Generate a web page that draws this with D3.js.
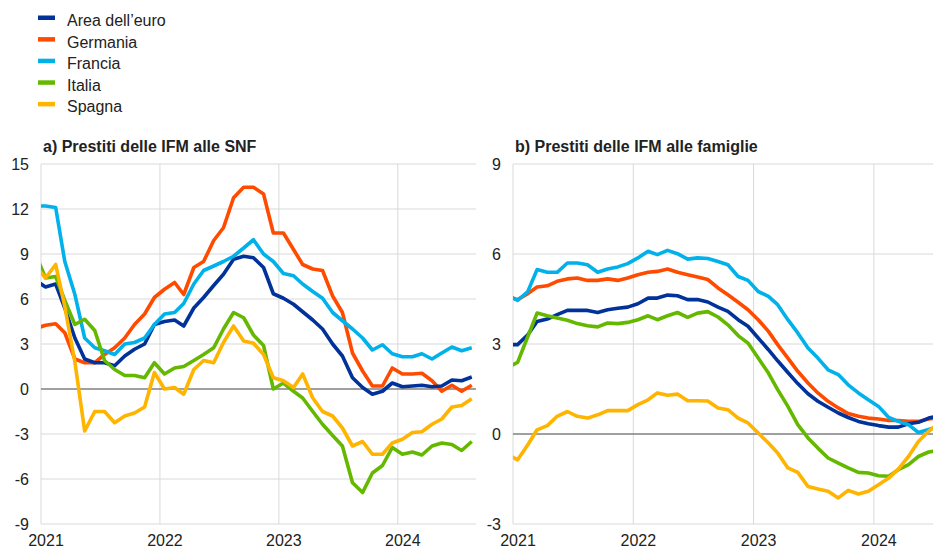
<!DOCTYPE html>
<html>
<head>
<meta charset="utf-8">
<script src="https://cdn.jsdelivr.net/npm/d3@7"></script>
<style>
    body { margin: 0; background: #fff; }
    svg { font-family: "Liberation Sans", Arial, sans-serif; }
    .grid line { stroke: #d9d9d9; stroke-width: 1; }
    .zero { stroke: #808080; stroke-width: 1.3; }
    .series { fill: none; stroke-width: 3.6; stroke-linejoin: round; }
</style>
</head>
<body>
<svg id="chart" width="933" height="548"></svg>
<script>
// series names + colours (legend order)
var names = ["Area dell\u2019euro", "Germania", "Francia", "Italia", "Spagna"];
var colors = ["#003299", "#ff4b00", "#00b1ea", "#65b800", "#ffb400"];
var drawOrder = [1, 0, 2, 3, 4];

// monthly values, first value is Dec 2020 (cut by the axis)
// a) loans to NFCs, Dec 2020 - Aug 2024
var snfEuro = [7.24, 6.8, 7.0, 5.4, 3.4, 2.0, 1.75, 1.75, 1.55, 2.2, 2.65, 3.0, 4.3,
    4.5, 4.6, 4.2, 5.4, 6.1, 6.9, 7.65, 8.65, 8.85, 8.75, 8.1, 6.35,
    6.05, 5.65, 5.15, 4.6, 4.0, 3.0, 2.2, 0.75, 0.1, -0.35, -0.15, 0.4,
    0.15, 0.2, 0.25, 0.15, 0.2, 0.6, 0.55, 0.8];
var snfGermania = [4.03, 4.25, 4.35, 3.75, 2.0, 1.75, 1.75, 2.3, 2.75, 3.4, 4.3, 5.0, 6.1,
    6.65, 7.1, 6.3, 8.1, 8.5, 9.9, 10.75, 12.75, 13.45, 13.45, 13.0, 10.4,
    10.4, 9.3, 8.3, 8.0, 7.9, 6.2, 5.1, 2.4, 1.2, 0.2, 0.2, 1.4,
    1.0, 1.0, 1.05, 0.55, -0.15, 0.25, -0.15, 0.25];
var snfFrancia = [12.2, 12.2, 12.1, 8.5, 6.3, 3.4, 2.75, 2.55, 2.3, 3.0, 3.1, 3.4, 4.3,
    5.0, 5.1, 5.7, 7.0, 7.9, 8.2, 8.5, 8.85, 9.4, 9.95, 9.0, 8.5,
    7.7, 7.55, 7.0, 6.5, 6.05, 5.1, 4.55, 4.0, 3.4, 2.6, 2.95, 2.35,
    2.15, 2.15, 2.35, 2.0, 2.4, 2.8, 2.55, 2.75];
var snfItalia = [9.0, 7.4, 7.5, 5.9, 4.3, 4.65, 3.9, 1.9, 1.3, 0.9, 0.9, 0.75, 1.75,
    1.0, 1.4, 1.5, 1.9, 2.3, 2.75, 4.0, 5.1, 4.75, 3.6, 2.9, 0.0,
    0.4, -0.15, -0.6, -1.5, -2.35, -3.1, -3.8, -6.25, -6.9, -5.6, -5.1, -3.9,
    -4.35, -4.2, -4.4, -3.8, -3.6, -3.7, -4.1, -3.5];
var snfSpagna = [8.2, 7.4, 8.3, 5.5, 1.8, -2.8, -1.5, -1.5, -2.25, -1.8, -1.6, -1.2, 1.1,
    0.0, 0.1, -0.35, 1.3, 1.9, 1.75, 3.1, 4.2, 3.2, 3.05, 2.3, 0.75,
    0.55, 0.1, 1.0, -0.6, -1.5, -1.8, -2.6, -3.8, -3.5, -4.35, -4.35, -3.6,
    -3.35, -2.9, -2.85, -2.35, -2.0, -1.2, -1.1, -0.65];

// b) loans to households, Dec 2020 - Jul 2024
var famEuro = [2.98, 2.98, 3.31, 3.75, 3.83, 3.98, 4.12, 4.12, 4.12, 4.05, 4.14, 4.19, 4.23,
    4.34, 4.53, 4.53, 4.63, 4.61, 4.48, 4.48, 4.4, 4.23, 4.09, 3.81, 3.59,
    3.2, 2.81, 2.44, 2.05, 1.68, 1.34, 1.09, 0.89, 0.7, 0.55, 0.42, 0.34,
    0.28, 0.23, 0.23, 0.34, 0.39, 0.53, 0.6];
var famGermania = [4.59, 4.48, 4.68, 4.9, 4.94, 5.09, 5.17, 5.2, 5.12, 5.12, 5.17, 5.12, 5.2,
    5.31, 5.39, 5.42, 5.5, 5.39, 5.31, 5.23, 5.15, 4.87, 4.64, 4.39, 4.14,
    3.81, 3.42, 2.98, 2.53, 2.09, 1.7, 1.37, 1.09, 0.87, 0.68, 0.59, 0.53,
    0.5, 0.45, 0.45, 0.42, 0.42, 0.5, 0.55];
var famFrancia = [4.63, 4.45, 4.75, 5.48, 5.39, 5.39, 5.7, 5.7, 5.64, 5.39, 5.5, 5.57, 5.68,
    5.87, 6.09, 5.98, 6.12, 6.01, 5.83, 5.87, 5.85, 5.75, 5.64, 5.25, 5.12,
    4.75, 4.59, 4.31, 3.81, 3.37, 2.87, 2.53, 2.14, 1.98, 1.64, 1.37, 1.14,
    0.92, 0.55, 0.42, 0.31, 0.05, 0.15, 0.25];
var famItalia = [2.21, 2.39, 3.25, 4.03, 3.94, 3.87, 3.79, 3.68, 3.61, 3.57, 3.7, 3.68, 3.72,
    3.81, 3.94, 3.81, 3.94, 4.05, 3.89, 4.03, 4.08, 3.9, 3.64, 3.28, 3.03,
    2.53, 2.03, 1.48, 0.92, 0.31, -0.13, -0.47, -0.8, -0.97, -1.13, -1.28, -1.3,
    -1.39, -1.41, -1.19, -1.02, -0.75, -0.6, -0.55];
var famSpagna = [-0.68, -0.86, -0.36, 0.14, 0.28, 0.59, 0.75, 0.59, 0.53, 0.64, 0.78, 0.78, 0.78,
    0.98, 1.14, 1.37, 1.29, 1.33, 1.11, 1.11, 1.1, 0.87, 0.81, 0.53, 0.37,
    0.03, -0.3, -0.63, -1.13, -1.28, -1.75, -1.83, -1.91, -2.13, -1.88, -2.0, -1.91,
    -1.69, -1.47, -1.17, -0.75, -0.25, 0.09, 0.35];

var yearTicks = [2021, 2022, 2023, 2024];
var snfTicks = [-9, -6, -3, 0, 3, 6, 9, 12, 15];
var famTicks = [-3, 0, 3, 6, 9];

var svg = d3.select("#chart");

// Legend
var legend = svg.append("g").attr("transform", "translate(38,0)");
names.forEach(function (n, i) {
    var y = 20 + i * 21.6;
    legend.append("rect")
        .attr("x", 0).attr("y", y - 4.5)
        .attr("width", 17).attr("height", 4.5)
        .attr("fill", colors[i]);
    legend.append("text")
        .attr("x", 29).attr("y", y + 6)
        .attr("font-size", 16)
        .attr("fill", "#222")
        .text(n);
});

function panel(opts) {
    var x = d3.scaleTime()
        .domain([new Date(2021, 0, 1), new Date(2024, 7, 28)])
        .range([opts.left, opts.right]);
    var y = d3.scaleLinear()
        .domain(opts.yDomain)
        .range([524, 164]);

    var g = svg.append("g");
    var clipId = "clip-" + opts.id;
    svg.append("clipPath").attr("id", clipId)
        .append("rect")
        .attr("x", opts.left).attr("y", 150)
        .attr("width", opts.right - opts.left).attr("height", 390);

    // grid
    var grid = g.append("g").attr("class", "grid");
    grid.selectAll(".h").data(opts.yTicks.filter(function (d) { return d !== 0; }))
        .enter().append("line")
        .attr("x1", opts.left).attr("x2", opts.right)
        .attr("y1", y).attr("y2", y);
    grid.selectAll(".v").data(yearTicks)
        .enter().append("line")
        .attr("x1", function (d) { return x(new Date(d, 0, 1)); })
        .attr("x2", function (d) { return x(new Date(d, 0, 1)); })
        .attr("y1", y(opts.yDomain[1])).attr("y2", y(opts.yDomain[0]));

    g.append("line").attr("class", "zero")
        .attr("x1", opts.left).attr("x2", opts.right)
        .attr("y1", y(0)).attr("y2", y(0));

    // y labels
    g.selectAll(".ylab").data(opts.yTicks)
        .enter().append("text")
        .attr("x", opts.left - 12)
        .attr("y", function (d) { return y(d); })
        .attr("dy", "0.35em")
        .attr("text-anchor", "end")
        .attr("font-size", 16)
        .attr("fill", "#222")
        .text(function (d) { return d; });

    // x labels
    g.selectAll(".xlab").data(yearTicks)
        .enter().append("text")
        .attr("x", function (d) { return x(new Date(d, 0, 1)) + 5; })
        .attr("y", 546)
        .attr("text-anchor", "middle")
        .attr("font-size", 16)
        .attr("fill", "#222")
        .text(function (d) { return d; });

    // title
    g.append("text")
        .attr("x", opts.left + 2).attr("y", 152)
        .attr("font-size", 16)
        .attr("font-weight", "bold")
        .attr("fill", "#222")
        .text(opts.title);

    var line = d3.line()
        .x(function (d, i) { return x(new Date(2020, 11 + i, 15)); })
        .y(function (d) { return y(d); });

    var lines = g.append("g").attr("clip-path", "url(#" + clipId + ")");
    drawOrder.forEach(function (k) {
        lines.append("path")
            .attr("class", "series")
            .attr("stroke", colors[k])
            .attr("d", line(opts.series[k]));
    });
}

panel({
    id: "snf",
    left: 41, right: 476,
    yDomain: [-9, 15], yTicks: snfTicks,
    title: "a) Prestiti delle IFM alle SNF",
    series: [snfEuro, snfGermania, snfFrancia, snfItalia, snfSpagna]
});

panel({
    id: "fam",
    left: 513, right: 953,
    yDomain: [-3, 9], yTicks: famTicks,
    title: "b) Prestiti delle IFM alle famiglie",
    series: [famEuro, famGermania, famFrancia, famItalia, famSpagna]
});
</script>
</body>
</html>
